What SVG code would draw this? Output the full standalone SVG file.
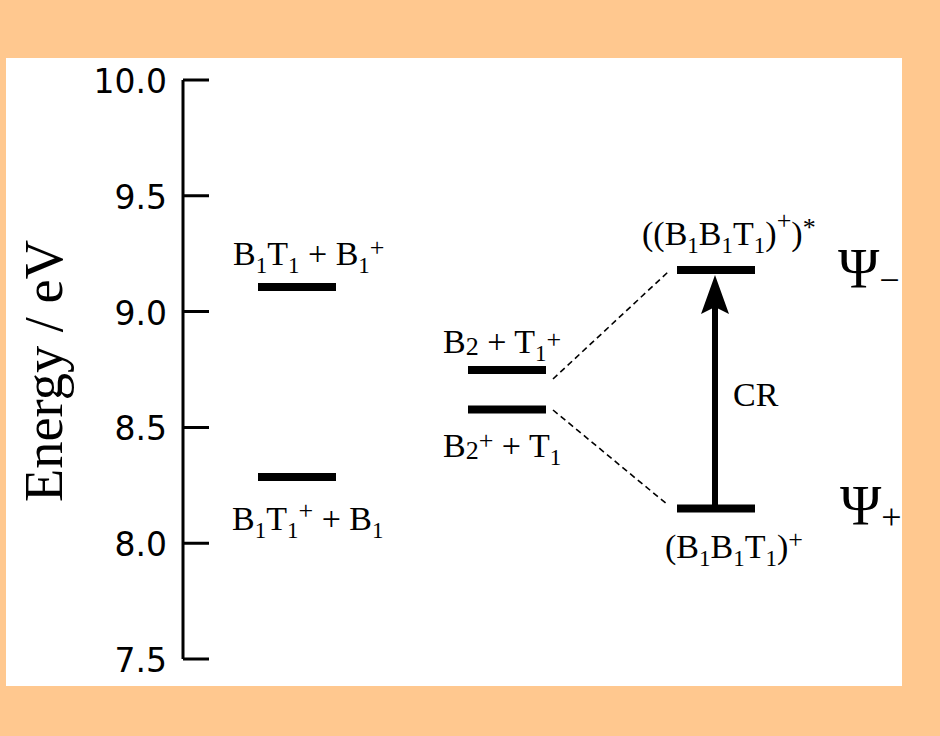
<svg xmlns="http://www.w3.org/2000/svg" width="940" height="736" viewBox="0 0 940 736">
<style>
.tk{font-family:"DejaVu Sans","Liberation Sans",sans-serif;font-size:33px;fill:#000;text-anchor:end}
.lb{font-family:"Liberation Serif","Times New Roman",serif;font-size:34px;fill:#000}
.big{font-size:55px}
.sb{font-size:23px}
.sp{font-size:26px}
.lvl{stroke:#000;stroke-width:8;fill:none}
.ax{stroke:#000;stroke-width:3;fill:none}
.dash{stroke:#000;stroke-width:1.6;stroke-dasharray:6 4;fill:none}
.psi{font-family:"Liberation Serif","Times New Roman",serif;font-size:56px;fill:#000}
</style>
<rect x="0" y="0" width="940" height="736" fill="#fff"/>
<g id="axis">
<path class="ax" d="M183,80V659M183,80H209M183,195.8H209M183,311.6H209M183,427.4H209M183,543.2H209M183,659H209"/>
<text class="tk" x="167" y="93">10.0</text>
<text class="tk" x="167" y="209">9.5</text>
<text class="tk" x="167" y="325">9.0</text>
<text class="tk" x="167" y="440">8.5</text>
<text class="tk" x="167" y="556">8.0</text>
<text class="tk" x="167" y="672">7.5</text>
<text class="lb big" transform="translate(62,371) rotate(-90)" text-anchor="middle" textLength="262" lengthAdjust="spacingAndGlyphs">Energy / eV</text>
</g>
<g id="connectors">
<path class="dash" d="M553,379L668,272"/>
<path class="dash" d="M553,410L668,505"/>
<path d="M715,508V305" stroke="#000" stroke-width="6"/>
<path d="M715,275L729,314L715,307L701,314Z" fill="#000"/>
</g>
<g id="B1T1_B1plus">
<path class="lvl" d="M258,287H336"/>
<text class="lb" x="233" y="265">B<tspan class="sb" y="273">1</tspan><tspan y="265">T</tspan><tspan class="sb" y="273">1</tspan><tspan y="265"> + B</tspan><tspan class="sb" y="273">1</tspan><tspan class="sp" y="256">+</tspan></text>
</g>
<g id="B1T1plus_B1">
<path class="lvl" d="M258,477H336"/>
<text class="lb" x="232" y="530">B<tspan class="sb" y="538">1</tspan><tspan y="530">T</tspan><tspan class="sb" y="538">1</tspan><tspan class="sp" y="519">+</tspan><tspan y="530"> + B</tspan><tspan class="sb" y="538">1</tspan></text>
</g>
<g id="B2_T1plus">
<path class="lvl" d="M468,370H546"/>
<text class="lb" x="443" y="353">B<tspan font-size="26" y="355">2</tspan><tspan y="353"> + T</tspan><tspan class="sb" y="361">1</tspan><tspan class="sp" y="348">+</tspan></text>
</g>
<g id="B2plus_T1">
<path class="lvl" d="M468,409.5H546"/>
<text class="lb" x="443" y="457">B<tspan font-size="26" y="459">2</tspan><tspan class="sp" y="449">+</tspan><tspan y="457"> + T</tspan><tspan class="sb" y="465">1</tspan></text>
</g>
<g id="psi_minus">
<path class="lvl" d="M677,270H755"/>
<text class="lb" x="642" y="245">((B<tspan class="sb" y="253">1</tspan><tspan y="245">B</tspan><tspan class="sb" y="253">1</tspan><tspan y="245">T</tspan><tspan class="sb" y="253">1</tspan><tspan y="245">)</tspan><tspan class="sp" y="229">+</tspan><tspan y="245">)</tspan><tspan class="sp" y="236">*</tspan></text>
<text class="psi" x="838" y="288">Ψ<tspan font-size="36" y="292">−</tspan></text>
</g>
<g id="psi_plus">
<path class="lvl" d="M677,508.5H755"/>
<text class="lb" x="665" y="558">(B<tspan class="sb" y="566">1</tspan><tspan y="558">B</tspan><tspan class="sb" y="566">1</tspan><tspan y="558">T</tspan><tspan class="sb" y="566">1</tspan><tspan y="558">)</tspan><tspan class="sp" y="548">+</tspan></text>
<text class="psi" x="840" y="525">Ψ<tspan font-size="36" y="529">+</tspan></text>
</g>
<g id="CR">
<text class="lb" x="733" y="406">CR</text>
</g>
<path d="M0,0H940V736H0Z M6,58V686H902V58Z" fill="#FFC88F" fill-rule="evenodd"/>
</svg>
